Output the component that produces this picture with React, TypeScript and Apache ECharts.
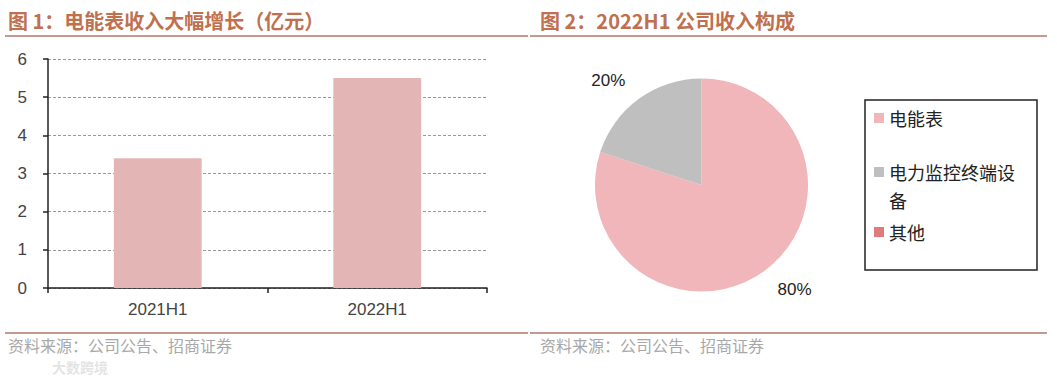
import React, { useEffect, useRef } from 'react';
import * as echarts from 'echarts';

// ---- data ----
const barCategories = ['2021H1', '2022H1'];
const barValues = [3.4, 5.5];
const yMin = 0;
const yMax = 6;
const yInterval = 1;

const pieNames = ['电能表', '电力监控终端设备', '其他'];
const pieValues = [80, 20, 0];
const pieColors = ['#f0b6b9', '#bfbfbf', '#e07b7b'];

const title1 = '图 1：电能表收入大幅增长（亿元）';
const title2 = '图 2：2022H1 公司收入构成';
const sourceText = '资料来源：公司公告、招商证券';
const watermark = '大数跨境';

const CJK = '"Noto Sans CJK SC", "Noto Sans", sans-serif';
const LAT = '"Liberation Sans", Arial, sans-serif';

export default function App() {
  const ref = useRef<HTMLDivElement>(null);
  useEffect(() => {
    if (!ref.current) return;
    const chart = echarts.init(ref.current, null, { renderer: 'svg' });
    const titleColor = '#c0704e';
    const ruleColor = '#c29a8e';
    const legendTop = [104, 130, 218];
    const multiLine = [false, true, false];
    chart.setOption({
      animation: false,
      backgroundColor: '#ffffff',
      grid: { left: 48, right: 570, top: 59, bottom: 88, containLabel: false },
      xAxis: {
        type: 'category',
        data: barCategories,
        axisLine: { show: true, lineStyle: { color: '#222', width: 1.5 } },
        axisTick: { show: true, length: 5, lineStyle: { color: '#222', width: 1.5 } },
        axisLabel: { color: '#444', fontSize: 17, fontFamily: LAT, margin: 13 },
      },
      yAxis: {
        type: 'value',
        min: yMin,
        max: yMax,
        interval: yInterval,
        axisLine: { show: true, lineStyle: { color: '#222', width: 1.5 } },
        axisTick: { show: true, length: 5, lineStyle: { color: '#222', width: 1.5 } },
        axisLabel: { color: '#444', fontSize: 17, fontFamily: LAT, margin: 21 },
        splitLine: { show: true, lineStyle: { color: '#999', type: [3, 2], width: 1 } },
      },
      legend: pieNames.map((n, i) => ({
        data: [n],
        orient: 'vertical',
        left: 874,
        top: legendTop[i],
        padding: 0,
        itemWidth: 10,
        itemHeight: 10,
        icon: 'rect',
        selectedMode: false,
        formatter: (name: string) => (multiLine[i] ? '\n' + name : name),
        textStyle: {
          fontSize: 18,
          fontFamily: CJK,
          color: '#222',
          lineHeight: 28,
          width: 136,
          overflow: 'break',
        },
      })),
      series: [
        {
          type: 'bar',
          data: barValues,
          barWidth: '40%',
          itemStyle: { color: '#e4b5b5' },
        },
        {
          type: 'pie',
          center: [701.5, 185],
          radius: 106.5,
          startAngle: 90,
          clockwise: true,
          avoidLabelOverlap: false,
          data: pieNames.map((n, i) => ({ name: n, value: pieValues[i], itemStyle: { color: pieColors[i] } })),
          label: {
            show: true,
            position: 'outside',
            formatter: (p: any) => (p.value ? p.value + '%' : ''),
            fontSize: 17,
            fontFamily: LAT,
            color: '#222',
            distanceToLabelLine: 0,
          },
          labelLine: { show: false, length: 23, length2: 0 },
          emphasis: { disabled: true },
        },
      ],
      graphic: [
        { type: 'text', left: 8, top: 10, style: { text: title1, fontSize: 20, fontWeight: 'bold', fontFamily: CJK, fill: titleColor } },
        { type: 'text', left: 540, top: 10, style: { text: title2, fontSize: 20, fontWeight: 'bold', fontFamily: CJK, fill: titleColor } },
        { type: 'line', shape: { x1: 5, y1: 36, x2: 528, y2: 36 }, style: { stroke: ruleColor, lineWidth: 2 } },
        { type: 'line', shape: { x1: 530, y1: 36, x2: 1047, y2: 36 }, style: { stroke: ruleColor, lineWidth: 2 } },
        { type: 'line', shape: { x1: 5, y1: 333, x2: 528, y2: 333 }, style: { stroke: ruleColor, lineWidth: 2 } },
        { type: 'line', shape: { x1: 530, y1: 333, x2: 1047, y2: 333 }, style: { stroke: ruleColor, lineWidth: 2 } },
        { type: 'text', left: 8, top: 337, style: { text: sourceText, fontSize: 16, fontFamily: CJK, fill: '#a8a8a8' } },
        { type: 'text', left: 540, top: 337, style: { text: sourceText, fontSize: 16, fontFamily: CJK, fill: '#a8a8a8' } },
        { type: 'text', left: 52, top: 360, style: { text: watermark, fontSize: 14, fontWeight: 'bold', fontFamily: CJK, fill: 'rgba(200,200,200,0.5)' } },
        { type: 'rect', shape: { x: 865, y: 100, width: 172, height: 170 }, style: { fill: 'none', stroke: '#222', lineWidth: 1.5 } },
      ],
    });
    return () => chart.dispose();
  }, []);
  return <div ref={ref} style={{ position: 'absolute', left: 0, top: 0, width: 1057, height: 376 }} />;
}
